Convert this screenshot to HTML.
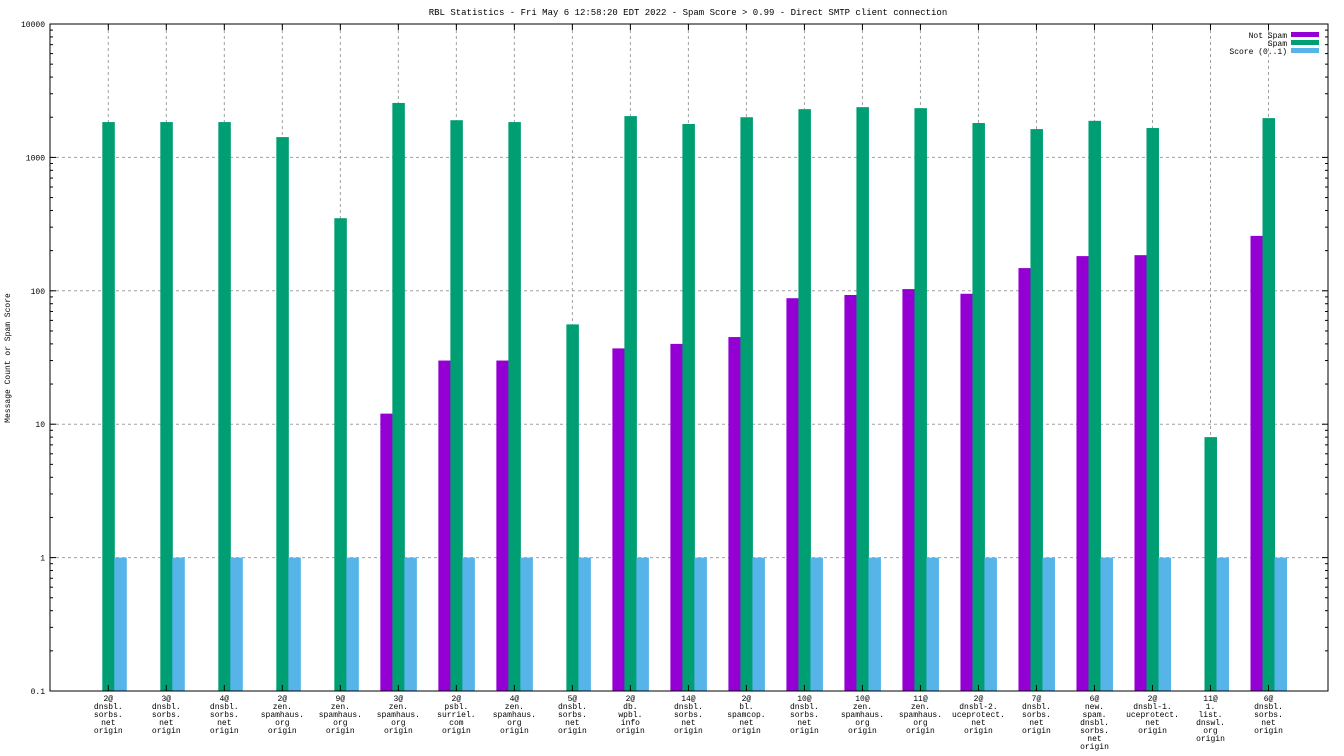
<!DOCTYPE html>
<html><head><meta charset="utf-8"><style>
html,body{margin:0;padding:0;background:#fff;}
svg{display:block;font-family:"Liberation Mono","DejaVu Sans Mono",monospace;}
</style></head><body>
<svg id="chart" width="1344" height="756" viewBox="0 0 1344 756" xmlns="http://www.w3.org/2000/svg">
<rect width="1344" height="756" fill="#fff"/>
<text x="688" y="15" font-size="9" text-anchor="middle">RBL Statistics - Fri May  6 12:58:20 EDT 2022 - Spam Score &gt; 0.99 - Direct SMTP client connection</text>
<text x="10" y="358" font-size="8" text-anchor="middle" transform="rotate(-90 10 358)">Message Count or Spam Score</text>
<g id="grid"></g><g id="bars"></g><g id="axes"></g><g id="labels"></g>
<g>
<text x="1287" y="38" font-size="8" text-anchor="end">Not Spam</text>
<rect x="1291" y="32" width="28" height="5" fill="#9400d3"/>
<text x="1287" y="46" font-size="8" text-anchor="end">Spam</text>
<rect x="1291" y="40" width="28" height="5" fill="#009e73"/>
<text x="1287" y="54" font-size="8" text-anchor="end">Score (0..1)</text>
<rect x="1291" y="48" width="28" height="5" fill="#56b4e9"/>
</g>
</svg>
<script>
const categories = [
 ["2@","dnsbl.","sorbs.","net","origin"],["3@","dnsbl.","sorbs.","net","origin"],["4@","dnsbl.","sorbs.","net","origin"],
 ["2@","zen.","spamhaus.","org","origin"],["9@","zen.","spamhaus.","org","origin"],["3@","zen.","spamhaus.","org","origin"],
 ["2@","psbl.","surriel.","com","origin"],["4@","zen.","spamhaus.","org","origin"],["5@","dnsbl.","sorbs.","net","origin"],
 ["2@","db.","wpbl.","info","origin"],["14@","dnsbl.","sorbs.","net","origin"],["2@","bl.","spamcop.","net","origin"],
 ["10@","dnsbl.","sorbs.","net","origin"],["10@","zen.","spamhaus.","org","origin"],["11@","zen.","spamhaus.","org","origin"],
 ["2@","dnsbl-2.","uceprotect.","net","origin"],["7@","dnsbl.","sorbs.","net","origin"],["6@","new.","spam.","dnsbl.","sorbs.","net","origin"],
 ["2@","dnsbl-1.","uceprotect.","net","origin"],["11@","1.","list.","dnswl.","org","origin"],["6@","dnsbl.","sorbs.","net","origin"]
];
const notSpam = [0,0,0,0,0,12,30,30,0,37,40,45,88,93,103,95,148,182,185,0,258];
const spam = [1840,1840,1840,1420,350,2560,1900,1840,56,2040,1780,2000,2300,2380,2340,1810,1630,1880,1660,8,1970];
const score = [1,1,1,1,1,1,1,1,1,1,1,1,1,1,1,1,1,1,1,1,1];
const yTicks = [0.1,1,10,100,1000,10000];
const yTickLabels = ["0.1","1","10","100","1000","10000"];

const NS="http://www.w3.org/2000/svg";
const L=50,R=1328,T=24,B=691;
const yMin=0.1,yMax=10000;
function y(v){return B-(Math.log10(v)-Math.log10(yMin))/(Math.log10(yMax)-Math.log10(yMin))*(B-T);}
function x(i){return 108.3+i*(1268.5-108.3)/(categories.length-1);}
function mk(tag,attrs,parent){const e=document.createElementNS(NS,tag);for(const k in attrs)e.setAttribute(k,attrs[k]);parent.appendChild(e);return e;}
const grid=document.getElementById('grid'),bars=document.getElementById('bars'),axes=document.getElementById('axes'),labels=document.getElementById('labels');
// grid
yTicks.forEach((t,i)=>{
 if(i>0&&i<yTicks.length-1){const g=mk('line',{x1:L,x2:R,y1:y(t),y2:y(t),stroke:'#a0a0a0','stroke-dasharray':'3,3','stroke-width':1},grid);
 
 }
 const tl=mk('text',{x:L-5,y:y(t)+3,'font-size':8,'text-anchor':'end'},axes);tl.textContent=yTickLabels[i];
 
 
 mk('line',{x1:L,x2:L+6,y1:y(t),y2:y(t),stroke:'#000'},axes);
 mk('line',{x1:R,x2:R-6,y1:y(t),y2:y(t),stroke:'#000'},axes);
 if(i<yTicks.length-1){for(let m=2;m<=9;m++){const yy=y(t*m);
  mk('line',{x1:L,x2:L+3,y1:yy,y2:yy,stroke:'#000'},axes);
  mk('line',{x1:R,x2:R-3,y1:yy,y2:yy,stroke:'#000'},axes);}}
});
categories.forEach((c,i)=>{
 const cx=x(i);
 const g=mk('line',{x1:cx,x2:cx,y1:T,y2:B,stroke:'#a0a0a0','stroke-dasharray':'3,3'},grid);
 
 
 mk('line',{x1:cx,x2:cx,y1:T,y2:T+6,stroke:'#000'},axes);
 mk('line',{x1:cx,x2:cx,y1:B,y2:B-6,stroke:'#000'},axes);
 const series=[[notSpam,'#9400d3',-18,'not-spam'],[spam,'#009e73',-6,'spam'],[score,'#56b4e9',6,'score']];
 series.forEach(s=>{const v=s[0][i];if(v>yMin){const top=y(v);
  const r=mk('rect',{x:cx+s[2],y:top,width:12.5,height:B-top,fill:s[1]},bars);
  
  }});
 const t=mk('text',{x:cx,y:701,'font-size':8,'text-anchor':'middle'},labels);
 
 
 c.forEach((ln,k)=>{const ts=mk('tspan',{x:cx,y:701+k*8},t);ts.textContent=ln;});
});
const f=mk('rect',{x:L,y:T,width:R-L,height:B-T,fill:'none',stroke:'#000','stroke-width':1},axes);


</script>
</body></html>
